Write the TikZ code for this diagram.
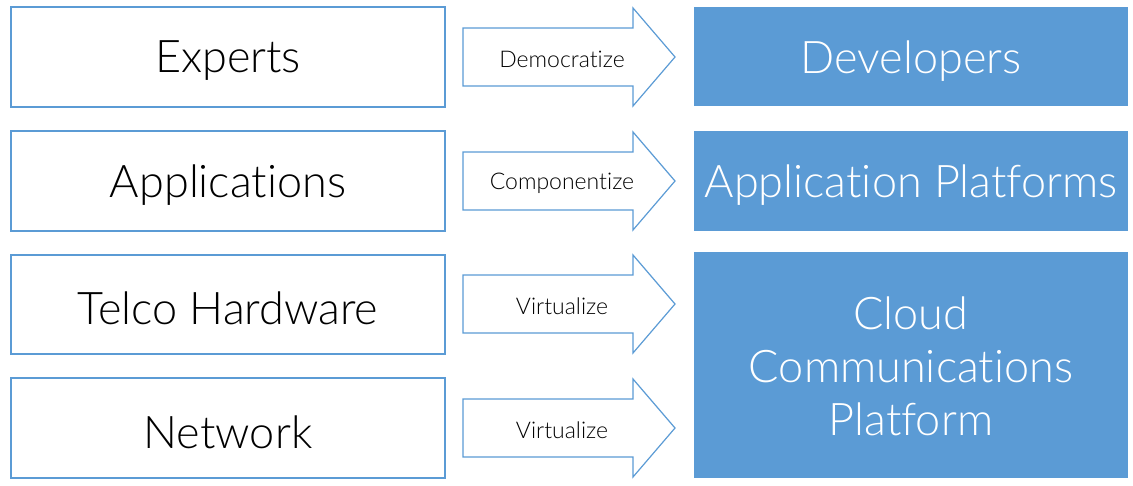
\documentclass[tikz,border=0pt]{standalone}
\usepackage{fontspec}
\setmainfont[Ligatures=NoCommon]{Lato Light}
\definecolor{cblue}{HTML}{5B9BD5}
\tikzset{
  x=1pt, y=-1pt,
  leftbox/.style={draw=cblue, line width=1.5pt, fill=white},
  rightbox/.style={fill=cblue},
  arrowshape/.style={draw=cblue, line width=1.2pt, fill=white, line join=miter},
  bigtext/.style={font=\fontsize{45}{54}\selectfont, text=black, align=center},
  whitetext/.style={font=\fontsize{45}{53}\selectfont, text=white, align=center},
  smalltext/.style={font=\fontsize{23}{26}\selectfont, text=black}
}
\newcommand{\bigarrow}[1]{%
  \draw[arrowshape] (463,#1-29) -- (633,#1-29) -- (633,#1-49) -- (675,#1) -- (633,#1+49) -- (633,#1+29) -- (463,#1+29) -- cycle;
}
\begin{document}
\begin{tikzpicture}
\useasboundingbox (0,0) rectangle (1133,485);
% left boxes
\draw[leftbox] (11,7) rectangle (445,107);
\draw[leftbox] (11,131) rectangle (445,231);
\draw[leftbox] (11,255) rectangle (445,354);
\draw[leftbox] (11,378) rectangle (445,478);
\node[bigtext] (experts) at (228,61) {Experts};
\node[bigtext] (apps) at (228,185) {Applications};
\node[bigtext] (telco) at (228,308) {Telco Hardware};
\node[bigtext] (network) at (228,432) {Network};
% arrows
\bigarrow{57}
\bigarrow{181}
\bigarrow{304}
\bigarrow{428}
\node[smalltext] (a1) at (562,59) {Democratize};
\node[smalltext] (a2) at (562,183) {Componentize};
\node[smalltext] (a3) at (562,306) {Virtualize};
\node[smalltext] (a4) at (562,430) {Virtualize};
% right boxes
\fill[rightbox] (694,7) rectangle (1128,106);
\fill[rightbox] (694,131) rectangle (1128,231);
\fill[rightbox] (694,252) rectangle (1128,478);
\node[whitetext] (dev) at (911,61) {Developers};
\node[whitetext] (appplat) at (911,185) {Application Platforms};
\node[whitetext] (ccp) at (911,366) {Cloud\\Communications\\Platform};
\end{tikzpicture}
\end{document}
